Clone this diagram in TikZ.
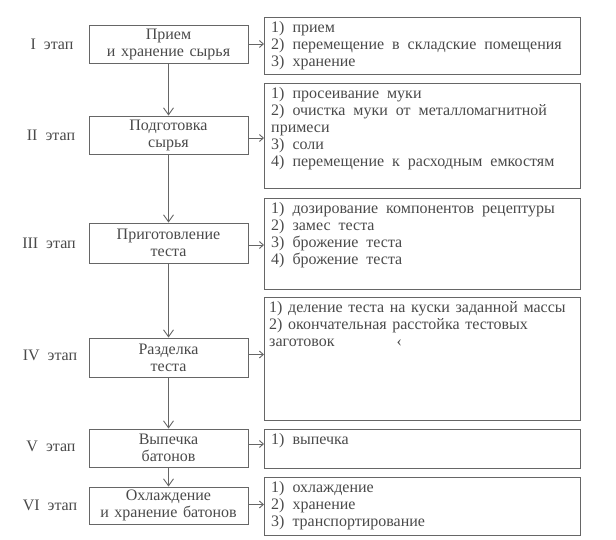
\documentclass[tikz,border=0pt]{standalone}
\usepackage{fontspec}
\setmainfont{Liberation Serif}
\usetikzlibrary{arrows.meta}
\definecolor{ink}{HTML}{4A4A4A}
\definecolor{linec}{HTML}{666666}
\newcommand\wsp{\hspace{5.6pt}}
\begin{document}
\begin{tikzpicture}[x=1pt,y=-1pt,
  every node/.style={text=ink, font=\fontsize{16}{17}\selectfont},
  stagebox/.style={rectangle, draw=linec, line width=0.9pt, minimum width=159pt, align=center, inner sep=0pt},
  opbox/.style={rectangle, draw=linec, line width=0.9pt, minimum width=316pt, inner sep=0pt},
  optext/.style={anchor=north west, align=left, inner sep=0pt},
  stagelabel/.style={inner sep=0pt},
  varr/.style={draw=linec, line width=0.9pt, -{Straight Barb[length=7pt,width=10pt]}},
  harr/.style={draw=linec, line width=0.9pt, -{Straight Barb[length=4pt,width=7pt]}}
]
\useasboundingbox (0,0) rectangle (616,540);
\fill[white] (0,0) rectangle (616,540);

% left boxes
\node[stagebox, minimum height=38pt] (b1) at (168.5,44) {Прием\\и\wsp хранение\wsp сырья};
\node[stagebox, minimum height=38pt] (b2) at (168.5,135) {Подготовка\\сырья};
\node[stagebox, minimum height=40pt] (b3) at (168.5,243) {Приготовление\\теста};
\node[stagebox, minimum height=39pt] (b4) at (168.5,357.5) {Разделка\\теста};
\node[stagebox, minimum height=38pt] (b5) at (168.5,448) {Выпечка\\батонов};
\node[stagebox, minimum height=37pt] (b6) at (168.5,505.5) {Охлаждение\\и\wsp хранение\wsp батонов};

% stage labels
\node[stagelabel] (s1) at (52,44) {I\ \ этап};
\node[stagelabel] (s2) at (51,135) {II\ \ этап};
\node[stagelabel] (s3) at (49,243) {III\ \ этап};
\node[stagelabel] (s4) at (50,355) {IV\ \ этап};
\node[stagelabel] (s5) at (51,446) {V\ \ этап};
\node[stagelabel] (s6) at (50,505) {VI\ \ этап};

% right boxes
\node[opbox, minimum height=57pt, anchor=north west] (r1) at (264,17) {};
\node[opbox, minimum height=105pt, anchor=north west] (r2) at (264,83) {};
\node[opbox, minimum height=91pt, anchor=north west] (r3) at (264,198) {};
\node[opbox, minimum height=123pt, anchor=north west] (r4) at (264,297) {};
\node[opbox, minimum height=39pt, anchor=north west] (r5) at (264,429) {};
\node[opbox, minimum height=58pt, anchor=north west] (r6) at (264,477) {};

\node[optext] (t1) at ([xshift=7pt,yshift=-4pt]r1.north west) {1)\ \ прием\\2)\ \ перемещение\ \ в\ \ складские\ \ помещения\\3)\ \ хранение};
\node[optext] (t2) at ([xshift=7pt,yshift=-4pt]r2.north west) {1)\ \ просеивание\ \ муки\\2)\ \ очистка\ \ муки\ \ от\ \ металломагнитной\\примеси\\3)\ \ соли\\4)\ \ перемещение\ \ к\ \ расходным\ \ емкостям};
\node[optext] (t3) at ([xshift=7pt,yshift=-4pt]r3.north west) {1)\ \ дозирование\ \ компонентов\ \ рецептуры\\2)\ \ замес\ \ теста\\3)\ \ брожение\ \ теста\\4)\ \ брожение\ \ теста};
\node[optext] (t4) at ([xshift=5pt,yshift=-4pt]r4.north west) {1)\wsp деление\wsp теста\wsp на\wsp куски\wsp заданной\wsp массы\\2)\wsp окончательная\wsp расстойка\wsp тестовых\\заготовок\hspace{62pt}‹};
\node[optext] (t5) at ([xshift=7pt,yshift=-4pt]r5.north west) {1)\ \ выпечка};
\node[optext] (t6) at ([xshift=7pt,yshift=-4pt]r6.north west) {1)\ \ охлаждение\\2)\ \ хранение\\3)\ \ транспортирование};

% vertical arrows
\draw[varr] (b1.south) -- (b2.north);
\draw[varr] (b2.south) -- (b3.north);
\draw[varr] (b3.south) -- (b4.north);
\draw[varr] (b4.south) -- (b5.north);
\draw[varr] (b5.south) -- (b6.north);

% horizontal arrows
\draw[harr] (b1.east) -- (b1.east -| r1.west);
\draw[harr] ([yshift=-3pt]b2.east) -- ([yshift=-3pt]b2.east -| r2.west);
\draw[harr] ([yshift=-2pt]b3.east) -- ([yshift=-2pt]b3.east -| r3.west);
\draw[harr] ([yshift=3pt]b4.east) -- ([yshift=3pt]b4.east -| r4.west);
\draw[harr] ([yshift=4pt]b5.east) -- ([yshift=4pt]b5.east -| r5.west);
\draw[harr] ([yshift=1pt]b6.east) -- ([yshift=1pt]b6.east -| r6.west);
\end{tikzpicture}
\end{document}
